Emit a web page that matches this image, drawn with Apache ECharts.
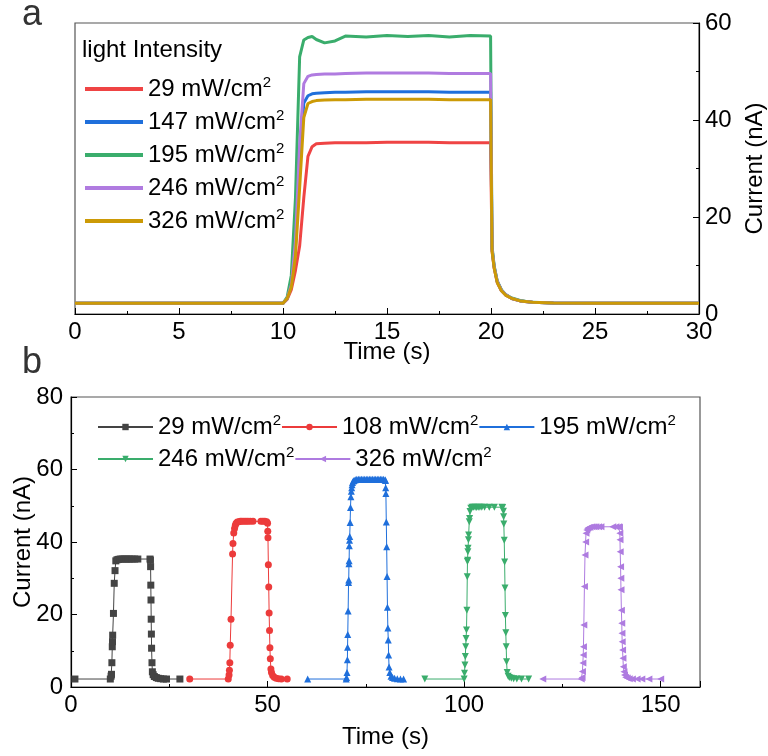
<!DOCTYPE html>
<html>
<head>
<meta charset="utf-8">
<script src="https://cdn.jsdelivr.net/npm/echarts@6/dist/echarts.min.js"></script>
<style>
  html, body { margin: 0; padding: 0; background: #fff; }
  #chart { width: 768px; height: 756px; }
</style>
</head>
<body>
<div id="chart"></div>
<script>
// panel a: time base shared by all traces
var tTop = [0, 10, 10.2, 10.4, 10.6, 10.8, 11.0, 11.2, 11.4, 11.6, 12.0, 12.5, 13, 14, 15, 16, 17, 18, 19, 19.98,
  20.05, 20.15, 20.3, 20.5, 20.7, 21.0, 21.4, 22, 23, 25, 30]
var red29 = [2.2, 2.2, 3.0, 5.0, 9.0, 14, 24, 32.5, 34.5, 35.1, 35.2, 35.3, 35.3, 35.3, 35.4, 35.4, 35.4, 35.3, 35.3, 35.3,
  13, 9.5, 6.5, 4.8, 3.9, 3.2, 2.7, 2.4, 2.25, 2.2, 2.2]
var blue147 = [2.2, 2.2, 3.2, 6.0, 14, 32, 43.5, 45.0, 45.4, 45.5, 45.6, 45.7, 45.7, 45.8, 45.8, 45.8, 45.8, 45.7, 45.7, 45.7,
  13.5, 9.8, 6.7, 4.9, 4.0, 3.2, 2.7, 2.4, 2.25, 2.2, 2.2]
var green195 = [2.2, 2.2, 3.5, 8.0, 24, 53, 56.5, 57.0, 57.2, 56.6, 55.9, 56.3, 57.3, 57.1, 57.4, 57.2, 57.4, 57.1, 57.4, 57.3,
  14, 10, 6.8, 5.0, 4.0, 3.3, 2.8, 2.4, 2.25, 2.2, 2.2]
var purple246 = [2.2, 2.2, 3.2, 6.0, 15, 35, 47.5, 49.0, 49.3, 49.4, 49.5, 49.5, 49.6, 49.7, 49.7, 49.7, 49.7, 49.6, 49.6, 49.6,
  13.5, 9.8, 6.7, 4.9, 4.0, 3.2, 2.7, 2.4, 2.25, 2.2, 2.2]
var gold326 = [2.2, 2.2, 3.2, 5.5, 12, 26, 40.5, 43.4, 43.8, 44.0, 44.1, 44.2, 44.2, 44.3, 44.3, 44.3, 44.3, 44.2, 44.2, 44.2,
  13, 9.5, 6.5, 4.8, 3.9, 3.2, 2.7, 2.4, 2.25, 2.2, 2.2]
var topNames = ['29 mW/cm2', '147 mW/cm2', '195 mW/cm2', '246 mW/cm2', '326 mW/cm2']
var topColors = ['#EF4444', '#1F6FDB', '#3AAD6C', '#B07BE0', '#CC9A06']

// panel b: [time, current]
var p29 = [[1, 2.2], [10.0, 2.2], [10.2, 3.0], [10.3, 3.5], [10.4, 6.7], [10.5, 11.1], [10.55, 12.5], [10.6, 14.3],
  [10.8, 20.3], [11.0, 28.6], [11.2, 32.1], [11.4, 34.8], [11.7, 35.1], [12.1, 35.2], [12.5, 35.3], [13, 35.3],
  [13.5, 35.3], [14, 35.3], [14.5, 35.3], [15, 35.3], [15.5, 35.3], [16.2, 35.3], [17.0, 35.3], [20.1, 35.3],
  [20.2, 35.0], [20.25, 33.2], [20.3, 28.1], [20.35, 24.0], [20.4, 18.7], [20.45, 14.6], [20.5, 10.7], [20.6, 6.7],
  [20.7, 4.2], [20.9, 3.4], [21.2, 2.9], [21.7, 2.6], [22.2, 2.4], [22.8, 2.3], [23.5, 2.2], [24.3, 2.2], [27.7, 2.2]]
var p108 = [[30.2, 2.2], [40.0, 2.2], [40.2, 3.3], [40.3, 4.6], [40.4, 6.7], [40.5, 11.5], [40.7, 18.7], [41.1, 36.7],
  [41.2, 39.6], [41.4, 42.5], [41.6, 43.7], [41.8, 44.6], [42.0, 45.2], [42.3, 45.5], [42.7, 45.6], [43.1, 45.7],
  [43.5, 45.7], [44.0, 45.7], [44.5, 45.7], [45.0, 45.7], [45.6, 45.7], [46.3, 45.7], [48.3, 45.7], [48.8, 45.7],
  [49.3, 45.7], [49.8, 45.6], [50.0, 45.2], [50.05, 43.0], [50.1, 41.2], [50.2, 33.7], [50.3, 27.6], [50.4, 20.4],
  [50.5, 15.6], [50.6, 10.8], [50.7, 7.8], [50.85, 5.0], [51.0, 4.0], [51.3, 3.2], [51.7, 2.7], [52.2, 2.4],
  [52.8, 2.3], [53.5, 2.2], [55.0, 2.2]]
var p195 = [[60.2, 2.2], [70.0, 2.2], [70.1, 2.6], [70.2, 4.0], [70.3, 7.5], [70.35, 11.0], [70.4, 14.5], [70.5, 21.0],
  [70.6, 28.8], [70.65, 29.5], [70.7, 34.0], [70.75, 34.8], [70.8, 39.0], [70.85, 40.5], [70.9, 41.5], [71.0, 45.4],
  [71.1, 49.5], [71.2, 52.5], [71.3, 54.0], [71.4, 55.0], [71.5, 55.8], [71.6, 56.4], [71.8, 56.8], [72.0, 57.0],
  [72.3, 57.2], [72.7, 57.3], [73.1, 57.3], [73.5, 57.3], [73.9, 57.3], [74.3, 57.3], [74.7, 57.3], [75.1, 57.3],
  [75.5, 57.3], [75.9, 57.3], [76.3, 57.3], [76.7, 57.3], [77.1, 57.3], [77.5, 57.3], [77.9, 57.3], [78.3, 57.3],
  [78.7, 57.3], [79.1, 57.3], [79.5, 57.3], [79.9, 57.2], [80.0, 57.0], [80.05, 55.0], [80.1, 53.4], [80.2, 45.5],
  [80.3, 38.7], [80.4, 30.5], [80.5, 22.0], [80.6, 16.3], [80.7, 13.0], [80.8, 8.8], [80.9, 5.5], [81.1, 4.0],
  [81.4, 3.0], [81.8, 2.6], [82.3, 2.4], [83.0, 2.3], [83.8, 2.2], [84.6, 2.2]]
var p246 = [[90.0, 2.2], [100.0, 2.2], [100.1, 3.8], [100.2, 6.1], [100.3, 8.4], [100.4, 11.1], [100.5, 13.4],
  [100.6, 15.7], [100.7, 21.2], [100.8, 30.4], [100.85, 34.6], [100.9, 35.0], [100.95, 37.3], [101.0, 38.3],
  [101.1, 40.6], [101.15, 41.9], [101.3, 45.6], [101.4, 46.5], [101.5, 48.4], [101.7, 49.3], [102.0, 49.6],
  [102.4, 49.6], [102.8, 49.6], [103.2, 49.5], [103.6, 49.6], [104.0, 49.6], [104.5, 49.6], [105.2, 49.6],
  [106.4, 49.6], [107.7, 49.6], [109.6, 49.6], [109.8, 49.5], [110.0, 48.5], [110.05, 47.0], [110.1, 45.0],
  [110.2, 40.5], [110.3, 34.5], [110.4, 27.3], [110.5, 19.7], [110.6, 15.0], [110.7, 11.1], [110.8, 7.0],
  [110.95, 4.0], [111.2, 3.0], [111.5, 2.6], [112.0, 2.4], [112.6, 2.3], [113.4, 2.2], [114.6, 2.2], [116.4, 2.2]]
var p326 = [[120.0, 2.2], [129.8, 2.2], [130.0, 2.6], [130.1, 4.3], [130.2, 6.6], [130.3, 8.8], [130.35, 11.1],
  [130.45, 17.1], [130.6, 27.7], [130.75, 36.4], [130.9, 40.0], [131.0, 42.4], [131.2, 43.3], [131.4, 43.8],
  [131.7, 44.0], [132.0, 44.1], [132.5, 44.2], [133.0, 44.2], [133.5, 44.2], [134.2, 44.2], [134.8, 44.2],
  [137.8, 44.2], [138.6, 44.2], [139.3, 44.2], [139.5, 44.1], [139.6, 42.4], [139.65, 40.6], [139.7, 37.3],
  [139.8, 33.2], [139.85, 30.0], [139.9, 26.8], [140.0, 21.2], [140.1, 17.6], [140.15, 14.8], [140.2, 12.5],
  [140.3, 10.2], [140.4, 7.9], [140.5, 5.6], [140.65, 4.2], [140.8, 3.3], [141.1, 2.7], [141.5, 2.5], [142.0, 2.3],
  [142.8, 2.2], [144.0, 2.2], [145.2, 2.2], [147.0, 2.2], [150.0, 2.2]]
var botNames = ['29 mW/cm2 ', '108 mW/cm2 ', '195 mW/cm2 ', '246 mW/cm2 ', '326 mW/cm2 ']
var botColors = ['#444444', '#EC3B3B', '#1F6FDB', '#3AAD6C', '#AE7BE0']
var botSymbols = ['rect', 'circle', 'triangle', 'triangle', 'triangle']
var botRotate = [0, 0, 0, 180, 90]

var FONT = 'Liberation Sans, Arial, sans-serif'

function pairs(t, v) {
  return t.map(function (x, i) { return [x, v[i]] })
}
function supFmt(name) {
  return name.trim().replace(/cm2$/, 'cm{s|2}')
}
var richSup = { s: { fontSize: 15, lineHeight: 14, verticalAlign: 'top', fontFamily: FONT, color: '#000' } }

var chart = echarts.init(document.getElementById('chart'))

var topVals = [red29, blue147, green195, purple246, gold326]
var series = []
topVals.forEach(function (v, i) {
  series.push({
    name: topNames[i],
    type: 'line',
    xAxisIndex: 0,
    yAxisIndex: 0,
    symbol: 'none',
    data: pairs(tTop, v),
    lineStyle: { width: 3, color: topColors[i] },
    itemStyle: { color: topColors[i] }
  })
})
var botData = [p29, p108, p195, p246, p326]
botData.forEach(function (d, i) {
  series.push({
    name: botNames[i],
    type: 'line',
    xAxisIndex: 1,
    yAxisIndex: 1,
    symbol: botSymbols[i],
    symbolSize: 7,
    symbolRotate: botRotate[i],
    showAllSymbol: true,
    data: d,
    lineStyle: { width: 1, color: botColors[i] },
    itemStyle: { color: botColors[i] }
  })
})

var axisBase = {
  axisLine: { show: true, onZero: false, lineStyle: { color: '#000', width: 1.2 } },
  axisTick: { show: true, inside: true, length: 6, lineStyle: { color: '#000' } },
  minorTick: { show: true, splitNumber: 2, length: 3, lineStyle: { color: '#000' } },
  splitLine: { show: false },
  axisLabel: { color: '#000', fontSize: 24, fontFamily: FONT },
  nameTextStyle: { color: '#000', fontSize: 24, fontFamily: FONT },
  nameLocation: 'middle',
  nameMoveOverlap: false
}
var legendText = { fontSize: 24, lineHeight: 28, color: '#000', fontFamily: FONT, rich: richSup }

var option = {
  animation: false,
  textStyle: { fontFamily: FONT },
  grid: [
    { left: 75, top: 23, width: 624, height: 291, show: true, borderColor: '#555', borderWidth: 1.2,
      containLabel: false, outerBoundsMode: 'none' },
    { left: 71, top: 397, width: 629, height: 290, show: true, borderColor: '#555', borderWidth: 1.2,
      containLabel: false, outerBoundsMode: 'none' }
  ],
  xAxis: [
    Object.assign({}, axisBase, {
      type: 'value', gridIndex: 0, min: 0, max: 30, interval: 5, name: 'Time (s)', nameGap: 26,
      axisLabel: Object.assign({}, axisBase.axisLabel, { margin: 6 })
    }),
    Object.assign({}, axisBase, {
      type: 'value', gridIndex: 1, min: 0, max: 160, interval: 50, name: 'Time (s)', nameGap: 38,
      axisLabel: Object.assign({}, axisBase.axisLabel, { margin: 6, showMaxLabel: false })
    })
  ],
  yAxis: [
    Object.assign({}, axisBase, {
      type: 'value', gridIndex: 0, position: 'right', min: 0, max: 60, interval: 20,
      name: 'Current (nA)', nameRotate: 90, nameGap: 44,
      axisLabel: Object.assign({}, axisBase.axisLabel, { margin: 6 })
    }),
    Object.assign({}, axisBase, {
      type: 'value', gridIndex: 1, min: 0, max: 80, interval: 20,
      name: 'Current (nA)', nameGap: 36,
      axisLabel: Object.assign({}, axisBase.axisLabel, { margin: 8 })
    })
  ],
  legend: [
    {
      data: topNames,
      orient: 'vertical',
      left: 80,
      top: 70,
      icon: 'rect',
      itemWidth: 58,
      itemHeight: 4,
      itemGap: 5,
      textStyle: legendText,
      formatter: supFmt
    },
    {
      data: botNames.slice(0, 3),
      orient: 'horizontal',
      left: 92,
      top: 408,
      itemWidth: 55,
      itemHeight: 8,
      itemGap: 0,
      textStyle: legendText,
      formatter: supFmt
    },
    {
      data: botNames.slice(3),
      orient: 'horizontal',
      left: 92,
      top: 440,
      itemWidth: 55,
      itemHeight: 8,
      itemGap: 0,
      textStyle: legendText,
      formatter: supFmt
    }
  ],
  graphic: [
    { type: 'text', left: 22, top: -3, style: { text: 'a', fontSize: 36, fontFamily: FONT, fill: '#333' } },
    { type: 'text', left: 22, top: 345, style: { text: 'b', fontSize: 36, fontFamily: FONT, fill: '#333' } },
    { type: 'text', left: 82, top: 38, style: { text: 'light Intensity', fontSize: 24, fontFamily: FONT, fill: '#000' } }
  ],
  series: series
}

chart.setOption(option)
</script>
</body>
</html>
